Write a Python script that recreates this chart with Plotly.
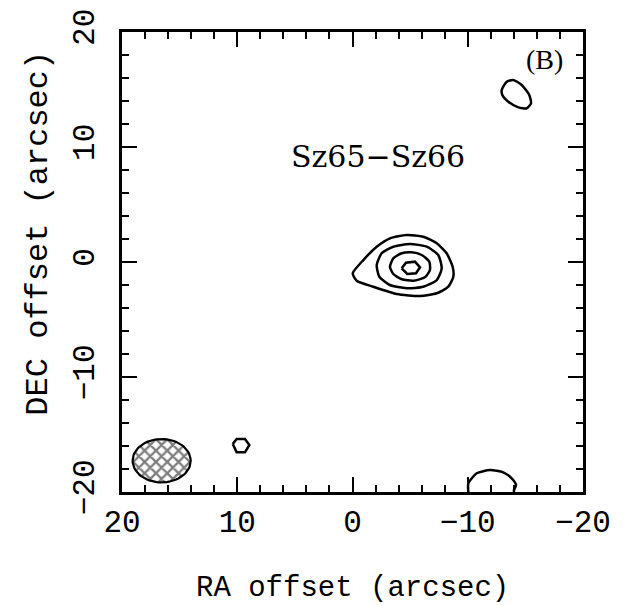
import numpy as np
import plotly.graph_objects as go

# ---------------- data (arcsec offsets) ----------------
RA_RANGE = [20, -20]
DEC_RANGE = [-20, 20]
TICK_VALS = [-20, -10, 0, 10, 20]
TICK_TEXT = ["\u221220", "\u221210", "0", "10", "20"]

# main source, nested contours (RA, DEC)
c1_ra = [-0.02, -0.94, -2.10, -3.25, -4.70, -6.14, -7.31, -8.17, -8.69, -8.75, -8.31, -7.31, -5.86, -3.83, -1.80, -0.36, -0.02]
c1_dec = [-0.98, 0.17, 1.33, 2.06, 2.35, 2.20, 1.63, 0.76, -0.41, -1.28, -2.15, -2.72, -2.96, -2.78, -2.15, -1.63, -0.98]

c2_ra = [-2.10, -2.53, -3.54, -4.99, -6.44, -7.44, -7.74, -7.31, -6.14, -4.70, -3.25, -2.33, -2.10]
c2_dec = [-0.26, 0.76, 1.33, 1.57, 1.33, 0.61, -0.55, -1.57, -2.15, -2.29, -2.00, -1.28, -0.26]

c3_ra = [-3.25, -3.54, -4.27, -5.14, -6.00, -6.66, -6.72, -6.29, -5.28, -4.27, -3.54, -3.25]
c3_dec = [-0.41, 0.32, 0.76, 0.84, 0.61, 0.03, -0.70, -1.33, -1.63, -1.50, -1.04, -0.41]

c4_ra = [-4.27, -4.64, -5.42, -5.86, -5.51, -4.75, -4.27]
c4_dec = [-0.55, -0.06, 0.03, -0.46, -0.98, -1.04, -0.55]

# north-west blob
c5_ra = [-12.95, -13.38, -13.95, -14.68, -15.34, -15.49, -15.12, -14.39, -13.52, -13.00, -12.95]
c5_dec = [14.96, 15.68, 15.83, 15.39, 14.52, 13.80, 13.37, 13.45, 13.94, 14.52, 14.96]

# small south-east blob
c6_ra = [10.39, 10.05, 9.33, 8.95, 9.33, 10.05, 10.39]
c6_dec = [-15.83, -15.39, -15.39, -15.91, -16.55, -16.55, -15.83]

# arc at the southern edge
c7_ra = [-10.05, -10.05, -10.78, -11.93, -13.08, -13.81, -14.19, -14.01, -14.01]
c7_dec = [-20.00, -19.24, -18.37, -18.09, -18.29, -18.81, -19.39, -19.83, -20.00]

# synthesized beam
BEAM_RA0, BEAM_DEC0 = 16.56, -17.28
BEAM_A, BEAM_B = 2.52, 1.89   # semi-axes (arcsec) along RA, DEC

SOURCE_LABEL = "Sz65\u2212Sz66"
PANEL_LABEL = "(B)"
X_TITLE = "RA offset (arcsec)"
Y_TITLE = "DEC offset (arcsec)"

# ---------------- figure ----------------
fig = go.Figure()

t = np.linspace(0, 2 * np.pi, 73)
fig.add_trace(go.Scatter(
    x=BEAM_RA0 + BEAM_A * np.cos(t), y=BEAM_DEC0 + BEAM_B * np.sin(t),
    mode="lines", fill="toself", fillcolor="white",
    fillpattern=dict(shape="x", fgcolor="black", bgcolor="white", size=8, solidity=0.5),
    line=dict(color="black", width=2.2), hoverinfo="skip", showlegend=False))

smooth = [(c1_ra, c1_dec), (c2_ra, c2_dec), (c3_ra, c3_dec), (c5_ra, c5_dec), (c7_ra, c7_dec)]
for xr, yd in smooth:
    fig.add_trace(go.Scatter(x=xr, y=yd, mode="lines",
                             line=dict(color="black", width=2.5, shape="spline", smoothing=0.6),
                             showlegend=False))
for xr, yd in [(c4_ra, c4_dec), (c6_ra, c6_dec)]:
    fig.add_trace(go.Scatter(x=xr, y=yd, mode="lines",
                             line=dict(color="black", width=2.5),
                             showlegend=False))

axis_common = dict(
    showgrid=False, zeroline=False, showline=True, linecolor="black", linewidth=3,
    mirror="allticks", ticks="inside", ticklen=15, tickwidth=2, tickcolor="black",
    tickmode="array", tickvals=TICK_VALS, ticktext=TICK_TEXT, automargin=False,
    minor=dict(ticks="inside", ticklen=7, tickwidth=2, tickcolor="black", dtick=2, showgrid=False),
    tickfont=dict(family="Liberation Mono", size=31, color="black"),
)

fig.update_xaxes(range=RA_RANGE, ticklabelstandoff=0, **axis_common)
fig.update_yaxes(range=DEC_RANGE, tickangle=-90, ticklabelstandoff=13, **axis_common)

fig.update_layout(
    width=623, height=606,
    margin=dict(l=122, r=40, t=32, b=114),
    plot_bgcolor="white", paper_bgcolor="white",
    showlegend=False,
    annotations=[
        dict(text=X_TITLE, xref="paper", yref="paper", x=0.4995, y=-0.209,
             xanchor="center", yanchor="middle", showarrow=False,
             font=dict(family="Liberation Mono", size=29, color="black")),
        dict(text=Y_TITLE, xref="paper", yref="paper", x=-0.183, y=0.563,
             xanchor="center", yanchor="middle", showarrow=False, textangle=-90,
             font=dict(family="Liberation Mono", size=32, color="black")),
        dict(text=SOURCE_LABEL, xref="x", yref="y", x=-2.2, y=9.2,
             xanchor="center", yanchor="middle", showarrow=False,
             font=dict(family="DejaVu Serif", size=30, color="black")),
        dict(text=PANEL_LABEL, xref="x", yref="y", x=-16.7, y=17.6,
             xanchor="center", yanchor="middle", showarrow=False,
             font=dict(family="Liberation Serif", size=28, color="black")),
    ],
)

fig.write_html("out.html", config={"displayModeBar": False},
               post_script="document.body.style.margin='0px';")
